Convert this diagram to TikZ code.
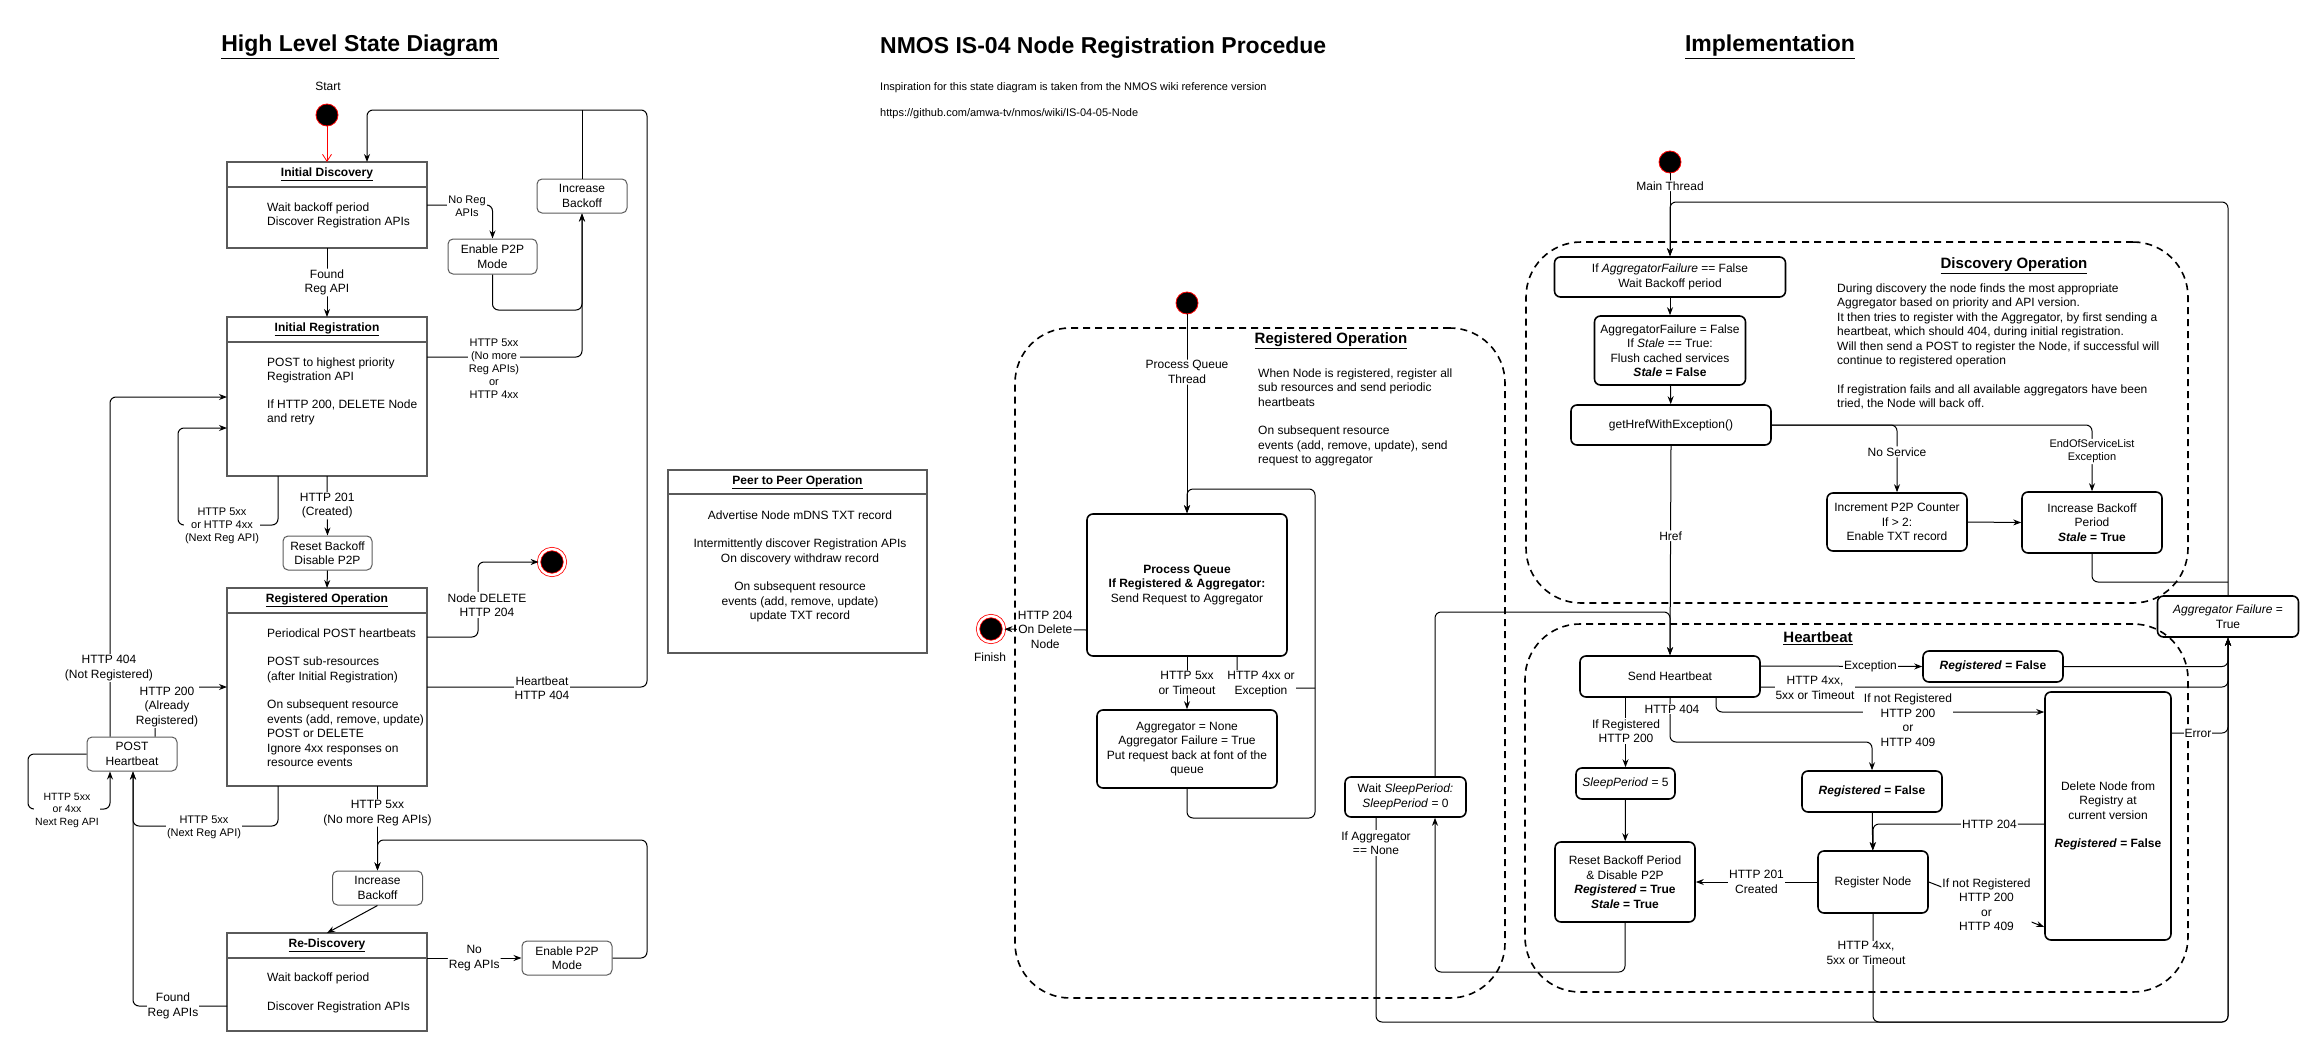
\documentclass[tikz,border=0pt]{standalone}
\usepackage{fontspec}
\setmainfont{Liberation Sans}
\usetikzlibrary{arrows.meta, positioning}
\definecolor{boxline}{RGB}{90, 90, 90}
\definecolor{startred}{RGB}{255, 0, 0}

\begin{document}
\begin{tikzpicture}[
    x=1pt, y=-1pt,
    every node/.style={font=\fontsize{12}{14.5}\selectfont},
    % titles
    bigtitle/.style={font=\fontsize{23}{27}\selectfont\bfseries, inner sep=0},
    zonetitle/.style={font=\fontsize{15}{18}\selectfont\bfseries, inner sep=0},
    note/.style={font=\fontsize{11}{13.5}\selectfont, anchor=west, inner sep=0},
    % high level states
    hdrbox/.style={
        rectangle, draw=boxline, line width=1.5pt, outer sep=0,
        minimum width=200, minimum height=25, inner sep=0,
        font=\fontsize{12}{14.5}\selectfont\bfseries
    },
    bodybox/.style={rectangle, draw=boxline, line width=1.5pt, outer sep=0, minimum width=200, inner sep=0},
    bodytext/.style={anchor=north west, align=left, inner sep=0},
    stepbox/.style={
        rectangle, rounded corners=5pt, draw=boxline, line width=1pt,
        minimum width=90, minimum height=34, align=center, inner sep=1pt
    },
    % implementation states
    implbox/.style={rectangle, rounded corners=6pt, draw=black, line width=1.6pt, align=center, inner sep=2pt},
    zone/.style={rectangle, rounded corners=55pt, draw=black, line width=1.6pt, dash pattern=on 7pt off 5pt},
    startdot/.style={circle, draw=startred, fill=black, minimum size=22, inner sep=0, line width=0.8pt},
    enddot/.style={circle, draw=startred, fill=black, minimum size=26, inner sep=0, line width=0.8pt, double=white, double distance=2.5pt},
    % labels
    lbl/.style={fill=white, inner sep=1pt, align=center},
    smalllbl/.style={lbl, font=\fontsize{11}{13}\selectfont},
    % connectors
    arr/.style={-{Stealth[length=8pt, width=6pt]}, line width=1pt, rounded corners=6pt},
    wire/.style={line width=1pt, rounded corners=6pt},
    startarr/.style={-{Straight Barb[length=7pt, width=9pt]}, startred, line width=0.8pt},
]
\useasboundingbox (0,0) rectangle (2319,1052);

% ==================== High Level State Diagram ====================
\node[bigtitle] (lefttitle) at (360,47) {\underline{High Level State Diagram}};
\node (startlbl) at (328,86) {Start};
\node[startdot] (start) at (327,115) {};

\node[hdrbox] (initdisc) at (327,174.5) {\underline{Initial Discovery}};
\node[bodybox, minimum height=61, below=0pt of initdisc] (initdiscb) {};
\node[bodytext] (initdisctxt) at (267,202.5) {Wait backoff period\\Discover Registration APIs};

\node[hdrbox] (initreg) at (327,329.5) {\underline{Initial Registration}};
\node[bodybox, minimum height=134, below=0pt of initreg] (initregb) {};
\node[bodytext] (initregtxt) at (267,357.5) {POST to highest priority\\Registration API\\[13pt]If HTTP 200, DELETE Node\\and retry};

\node[hdrbox] (regop) at (327,600.5) {\underline{Registered Operation}};
\node[bodybox, minimum height=173, below=0pt of regop] (regopb) {};
\node[bodytext] (regoptxt) at (267,628.5) {Periodical POST heartbeats\\[14pt]POST sub-resources\\(after Initial Registration)\\[14pt]On subsequent resource\\events (add, remove, update)\\POST or DELETE\\Ignore 4xx responses on\\resource events};

\node[hdrbox] (redisc) at (327,945.5) {\underline{Re-Discovery}};
\node[bodybox, minimum height=73, below=0pt of redisc] (rediscb) {};
\node[bodytext] (redisctxt) at (267,972.5) {Wait backoff period\\[15pt]Discover Registration APIs};

\node[stepbox] (incbk1) at (582,196) {Increase\\Backoff};
\node[stepbox, minimum width=89, minimum height=35] (p2p1) at (492.5,256.5) {Enable P2P\\Mode};
\node[stepbox, minimum width=89] (resetbk) at (327.5,553) {Reset Backoff\\Disable P2P};
\node[enddot] (endA) at (552,562) {};
\node[stepbox] (posthb) at (132,754) {POST\\Heartbeat};
\node[stepbox] (incbk2) at (377.5,888) {Increase\\Backoff};
\node[stepbox] (p2p2) at (567,958) {Enable P2P\\Mode};

% connectors
\draw[startarr] (start) -- (initdisc);
\draw[arr] (regopb.east |- 0,687) -| (647,110) -| ([xshift=40pt]initdisc.north);
\draw[wire] (incbk1.north) -- (incbk1.north |- 0,110);
\node[lbl] at (542,688) {Heartbeat\\HTTP 404};

\draw[arr] (initdiscb.east |- 0,205) -| (p2p1.north);
\node[smalllbl] at (467,206) {No Reg\\APIs};
\draw[arr] (p2p1.south) |- (incbk1.south |- 0,310) -- (incbk1.south);
\draw[arr] (initregb.east |- 0,357) -| (incbk1.south);
\node[smalllbl] at (494,369) {HTTP 5xx\\(No more\\Reg APIs)\\or\\HTTP 4xx};

\draw[arr] (initdiscb.south) -- node[lbl] {Found\\Reg API} (initreg.north);
\draw[arr] (initregb.south) -- node[lbl] {HTTP 201\\(Created)} (resetbk.north);
\draw[arr] (resetbk.south) -- (regop.north);

\draw[arr] (initregb.south -| 278,0) |- (178,525) |- (initregb.west |- 0,428);
\node[smalllbl] at (222,526) {HTTP 5xx\\or HTTP 4xx\\(Next Reg API)};

\draw[arr] (regopb.east |- 0,637) -| (478,600) |- (endA.west);
\node[lbl] at (487,605) {Node DELETE\\HTTP 204};

\draw[arr] (posthb.north -| 110,0) |- (initregb.west |- 0,397);
\node[lbl] at (109,668) {HTTP 404\\(Not Registered)};
\draw[arr] (posthb.north -| 155,0) |- (regopb.west |- 0,687);
\node[lbl] at (167,707) {HTTP 200\\(Already\\Registered)};

\draw[arr] (posthb.west) -| (28,809) -| (posthb.south -| 110,0);
\node[smalllbl, font=\fontsize{10.5}{12.5}\selectfont] at (67,810) {HTTP 5xx\\or 4xx\\Next Reg API};
\draw[arr] (regopb.south -| 278,0) |- (133,826) -- (posthb.south -| 133,0);
\node[smalllbl] at (204,827) {HTTP 5xx\\(Next Reg API)};
\draw[arr] (rediscb.west |- 0,1006) -| (posthb.south -| 133,0);
\node[lbl] at (173,1006) {Found\\Reg APIs};

\draw[arr] (regopb.south -| incbk2.north) -- node[lbl, pos=0.32] {HTTP 5xx\\(No more Reg APIs)} (incbk2.north);
\draw[arr] (p2p2.east) -| (647,840) -| (incbk2.north);
\draw[arr] (incbk2.south) -- (redisc.north);
\draw[arr] (rediscb.north east) -- node[lbl] {No\\Reg APIs} (p2p2.west);

% ==================== Title and Peer to Peer ====================
\node[bigtitle, anchor=west] (midtitle) at (880,48) {NMOS IS-04 Node Registration Procedue};
\node[note] (inspire) at (880,88) {Inspiration for this state diagram is taken from the NMOS wiki reference version};
\node[note] (wikiurl) at (880,114) {https://github.com/amwa-tv/nmos/wiki/IS-04-05-Node};

\node[hdrbox, minimum width=259, minimum height=24] (peer) at (797.5,482) {\underline{Peer to Peer Operation}};
\node[bodybox, minimum width=259, minimum height=159, below=0pt of peer] (peerb) {};
\node[align=center, anchor=north, inner sep=0] (peertxt) at (800,510.5) {Advertise Node mDNS TXT record\\[14pt]Intermittently discover Registration APIs\\On discovery withdraw record\\[14pt]On subsequent resource\\events (add, remove, update)\\update TXT record};

% ==================== Implementation ====================
\node[bigtitle] (impltitle) at (1770,47) {\underline{Implementation}};
\node[startdot] (mainstart) at (1670,162) {};

% Registered Operation zone
\node[zone, minimum width=490, minimum height=670] (regzone) at (1260,663) {};
\node[zonetitle] (regzonetitle) at (1331,341) {\underline{Registered Operation}};
\node[bodytext] (regzonenote) at (1258,368.5) {When Node is registered, register all\\sub resources and send periodic\\heartbeats\\[14pt]On subsequent resource\\events (add, remove, update), send\\request to aggregator};
\node[startdot] (qstart) at (1187,303) {};
\node[implbox, minimum width=200, minimum height=142] (procq) at (1187,585) {\textbf{Process Queue}\\\textbf{If Registered \& Aggregator:}\\Send Request to Aggregator};
\node[enddot] (finish) at (991,629) {};
\node (finishlbl) at (990,657) {Finish};
\node[implbox, minimum width=180, minimum height=78] (aggnone) at (1187,749) {Aggregator = None\\Aggregator Failure = True\\Put request back at font of the\\queue};
\node[implbox, minimum width=121, minimum height=40] (waitsleep) at (1405.5,797) {Wait \textit{SleepPeriod:}\\\textit{SleepPeriod} = 0};

% Discovery Operation zone
\node[zone, minimum width=662, minimum height=361] (disczone) at (1857,422.5) {};
\node[zonetitle] (disczonetitle) at (2014,266) {\underline{Discovery Operation}};
\node[bodytext] (disczonenote) at (1837,283.5) {During discovery the node finds the most appropriate\\Aggregator based on priority and API version.\\It then tries to register with the Aggregator, by first sending a\\heartbeat, which should 404, during initial registration.\\Will then send a POST to register the Node, if successful will\\continue to registered operation\\[14pt]If registration fails and all available aggregators have been\\tried, the Node will back off.};
\node[implbox, minimum width=231, minimum height=40] (waitbk) at (1670,277) {If \textit{AggregatorFailure} == False\\Wait Backoff period};
\node[implbox, minimum width=151, minimum height=69] (flush) at (1670,350.5) {AggregatorFailure = False\\If \textit{Stale} == True:\\Flush cached services\\\textbf{\textit{Stale} = False}};
\node[implbox, minimum width=200, minimum height=40] (gethref) at (1671,425) {getHrefWithException()};
\node[implbox, minimum width=140, minimum height=58] (incp2p) at (1897,522) {Increment P2P Counter\\If > 2:\\Enable TXT record};
\node[implbox, minimum width=140, minimum height=61] (incbkp) at (2092,522.5) {Increase Backoff\\Period\\\textbf{\textit{Stale} = True}};
\node[implbox, minimum width=141, minimum height=41] (aggfail) at (2228,616.5) {\textit{Aggregator Failure} =\\True};

% Heartbeat zone
\node[zone, minimum width=663, minimum height=368] (hbzone) at (1856.5,808) {};
\node[zonetitle] (hbzonetitle) at (1818,638) {\underline{Heartbeat}};
\node[implbox, minimum width=180, minimum height=41] (sendhb) at (1670,676.5) {Send Heartbeat};
\node[implbox, minimum width=140, minimum height=31] (regfalse) at (1993,666.5) {\textbf{\textit{Registered} = False}};
\node[implbox, minimum width=126, minimum height=248] (delnode) at (2108,816) {Delete Node from\\Registry at\\current version\\[14pt]\textbf{\textit{Registered} = False}};
\node[implbox, minimum width=99, minimum height=31] (sleep5) at (1625.5,783.5) {\textit{SleepPeriod} = 5};
\node[implbox, minimum width=140, minimum height=80] (resetbp) at (1625,882) {Reset Backoff Period\\\& Disable P2P\\\textbf{\textit{Registered} = True}\\\textbf{\textit{Stale} = True}};
\node[implbox, minimum width=140, minimum height=41] (regfalseb) at (1872,791.5) {\textbf{\textit{Registered} = False}};
\node[implbox, minimum width=110, minimum height=62] (regnode) at (1873,882) {Register Node};

% connectors: registered operation
\draw[arr] (qstart) -- node[lbl, pos=0.29] {Process Queue\\Thread} (procq);
\draw[arr] (procq.west |- 0,630) -- node[lbl] {HTTP 204\\On Delete\\Node} (finish);
\draw[arr] (procq.south) -- node[lbl] {HTTP 5xx\\or Timeout} (aggnone.north);
\draw[arr] (aggnone.south) |- (1315,818) -- (1315,489) -| (procq.north);
\draw[wire] (procq.south -| 1237,0) |- (1315,688);
\node[lbl] at (1261,684) {HTTP 4xx or\\Exception};

\draw[arr] (waitsleep.north -| 1435,0) |- (sendhb.north |- 0,612) -- (sendhb.north);
\draw[arr] (resetbp.south) |- (1435,972) -- (waitsleep.south -| 1435,0);
\draw[arr] (waitsleep.south -| 1376,0) |- (aggfail.south |- 0,1022) -- (aggfail.south);
\node[lbl] at (1376,843) {If Aggregator\\== None};

% connectors: discovery
\draw[arr] (mainstart) -- node[lbl, pos=0.15] {Main Thread} (waitbk);
\draw[arr] (aggfail.north) |- (waitbk.north |- 0,202) -- (waitbk.north);
\draw[wire] (incbkp.south) |- (aggfail.north |- 0,582);
\draw[arr] (waitbk) -- (flush);
\draw[arr] (flush) -- (gethref);
\draw[arr] (gethref.east) -| node[smalllbl, pos=0.7] {EndOfServiceList\\Exception} (incbkp.north);
\draw[arr] (gethref.east) -| node[lbl, pos=0.7] {No Service} (incp2p.north);
\draw[arr] (incp2p.east) -- (incbkp.west);
\draw[arr] (gethref.south) -- node[lbl, pos=0.43] {Href} (sendhb.north);

% connectors: heartbeat
\draw[arr] (sendhb.east |- 0,666) -- node[lbl, pos=0.68] {Exception} (regfalse.west);
\draw[arr] (regfalse.east) -| (aggfail.south);
\draw[arr] (sendhb.east |- 0,687) -| (aggfail.south);
\node[lbl] at (1815,688) {HTTP 4xx,\\5xx or Timeout};
\draw[arr] (delnode.east |- 0,733) -| (aggfail.south);
\node[lbl] at (2198,733) {Error};
\draw[arr] (sendhb.south -| 1716,0) |- (delnode.west |- 0,712);
\node[lbl] at (1908,720) {If not Registered\\HTTP 200\\or\\HTTP 409};
\draw[arr] (sendhb.south) |- (regfalseb.north |- 0,742) -- (regfalseb.north);
\node[lbl] at (1672,709) {HTTP 404};
\draw[arr] (sendhb.south -| sleep5.north) -- (sleep5.north);
\node[lbl] at (1626,731) {If Registered\\HTTP 200};
\draw[arr] (sleep5) -- (resetbp);
\draw[arr] (regfalseb) -- (regnode);
\draw[arr] (delnode.west |- 0,824) -| node[lbl, pos=0.16] {HTTP 204} (regnode.north);
\draw[arr] (regnode.west) -- node[lbl] {HTTP 201\\Created} (resetbp.east);
\draw[arr] (regnode.east) -- node[lbl] {If not Registered\\HTTP 200\\or\\HTTP 409} (delnode.west |- 0,927);
\draw[arr] (regnode.south) |- (aggfail.south |- 0,1022) -- (aggfail.south);
\node[lbl] at (1866,953) {HTTP 4xx,\\5xx or Timeout};

\end{tikzpicture}
\end{document}
